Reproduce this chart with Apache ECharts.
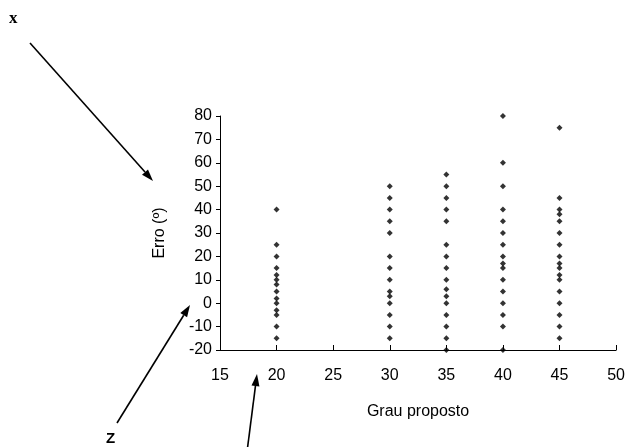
<!DOCTYPE html>
<html>
<head>
<meta charset="utf-8">
<script src="https://cdn.jsdelivr.net/npm/echarts@6/dist/echarts.min.js"></script>
<style>html,body{margin:0;padding:0;background:#fff}#c{width:628px;height:447px}</style>
</head>
<body>
<div id="c"></div>
<script>
// Data
var grades = [20, 30, 35, 40, 45];
var err20 = [40, 25, 20, 15, 12, 10, 8, 5, 2, 0, -3, -5, -10, -15];
var err30 = [50, 45, 40, 35, 30, 20, 15, 10, 5, 3, 0, -5, -10, -15];
var err35 = [55, 50, 45, 40, 35, 25, 20, 15, 10, 6, 3, 0, -5, -10, -15, -20];
var err40 = [80, 60, 50, 40, 35, 30, 25, 20, 17, 15, 10, 5, 0, -5, -10, -20];
var err45 = [75, 45, 40, 38, 35, 30, 25, 20, 17, 15, 12, 10, 5, 0, -5, -10, -15];
var xTicks = [15, 20, 25, 30, 35, 40, 45, 50];
var yTicks = [-20, -10, 0, 10, 20, 30, 40, 50, 60, 70, 80];

var columns = [err20, err30, err35, err40, err45];
var points = [];
columns.forEach(function (col, i) {
  col.forEach(function (v) { points.push([grades[i], v]); });
});

var FONT = 'Liberation Sans, Arial, sans-serif';
var chart = echarts.init(document.getElementById('c'), null, {renderer: 'canvas'});

function arrow(x1, y1, x2, y2) {
  var dx = x2 - x1, dy = y2 - y1, L = Math.sqrt(dx * dx + dy * dy);
  var ux = dx / L, uy = dy / L, hl = 12, hw = 4;
  var bx = x2 - hl * ux, by = y2 - hl * uy;
  return [
    {type: 'line', shape: {x1: x1, y1: y1, x2: bx, y2: by}, style: {stroke: '#000', lineWidth: 1.6}},
    {type: 'polygon', shape: {points: [[x2, y2], [bx - hw * uy, by + hw * ux], [bx + hw * uy, by - hw * ux]]}, style: {fill: '#000'}}
  ];
}

var graphics = [].concat(
  arrow(30, 43, 153, 181),
  arrow(117, 423, 190, 305),
  arrow(247, 452, 257, 374),
  [
    {type: 'text', left: 9, top: 10, style: {text: 'x', font: 'bold 17px "Liberation Serif", serif', fill: '#000'}},
    {type: 'text', left: 106, top: 431, style: {text: 'Z', font: 'bold 15px "Liberation Sans", sans-serif', fill: '#000'}}
  ]
);

chart.setOption({
  animation: false,
  backgroundColor: '#fff',
  grid: {left: 220, right: 11, top: 116, bottom: 97},
  xAxis: {
    type: 'value', min: 15, max: 50, interval: 5,
    name: 'Grau proposto', nameLocation: 'middle', nameGap: 54,
    nameTextStyle: {color: '#000', fontSize: 16, fontFamily: FONT},
    axisLine: {show: true, onZero: false, lineStyle: {color: '#000', width: 1}},
    axisTick: {show: true, inside: true, length: 5, lineStyle: {color: '#000'}},
    axisLabel: {color: '#000', fontSize: 16, fontFamily: FONT, margin: 18,
      formatter: function (v) { return xTicks.indexOf(v) >= 0 ? String(v) : ''; }},
    splitLine: {show: false}
  },
  yAxis: {
    type: 'value', min: -20, max: 80, interval: 10,
    name: 'Erro (º)', nameLocation: 'middle', nameGap: 52, nameRotate: 90,
    nameTextStyle: {color: '#000', fontSize: 16, fontFamily: FONT},
    axisLine: {show: true, onZero: false, lineStyle: {color: '#000', width: 1}},
    axisTick: {show: true, inside: false, length: 4, lineStyle: {color: '#000'}},
    axisLabel: {color: '#000', fontSize: 16, fontFamily: FONT, margin: 8,
      formatter: function (v) { return yTicks.indexOf(v) >= 0 ? String(v) : ''; }},
    splitLine: {show: false}
  },
  series: [{
    type: 'scatter',
    data: points,
    symbol: 'diamond',
    symbolSize: 6,
    itemStyle: {color: '#000'}
  }],
  graphic: graphics
});
</script>
</body>
</html>
